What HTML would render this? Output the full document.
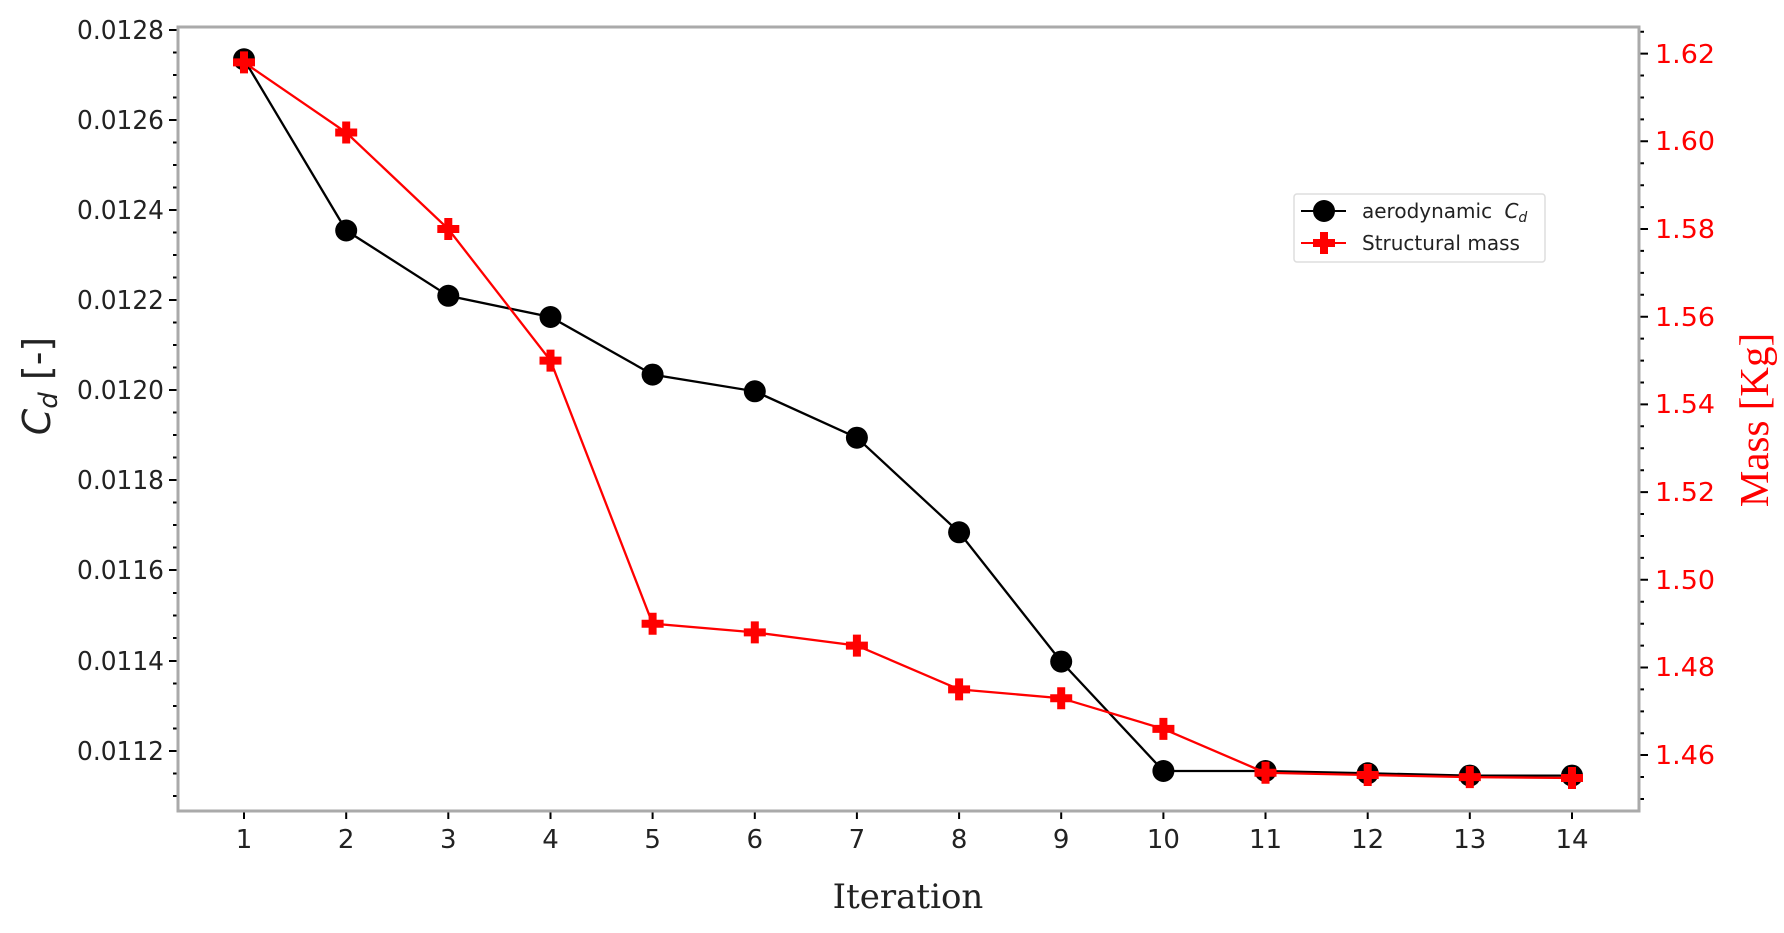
<!DOCTYPE html>
<html><head><meta charset="utf-8"><style>
body{margin:0;background:#fff}
svg{display:block}
text{font-family:"DejaVu Sans","Liberation Sans",sans-serif}
</style></head><body>
<svg width="1784" height="933" viewBox="0 0 1784 933" xmlns="http://www.w3.org/2000/svg">
<defs>
<path id="plus" d="M-4,-11H4V-4H11V4H4V11H-4V4H-11V-4H-4Z" fill="#ff0000"/>
</defs>
<g stroke="#000" stroke-width="2">
<path d="M178,30h-9M178,120h-9M178,210h-9M178,300h-9M178,390h-9M178,480h-9M178,570h-9M178,661h-9M178,751h-9"/>
<path d="M178,52.5h-5M178,75h-5M178,97.5h-5M178,142.5h-5M178,165h-5M178,187.5h-5M178,232.5h-5M178,255h-5M178,277.5h-5M178,322.5h-5M178,345h-5M178,367.5h-5M178,412.5h-5M178,435h-5M178,457.5h-5M178,502.5h-5M178,525h-5M178,547.5h-5M178,593h-5M178,615.5h-5M178,638h-5M178,683.5h-5M178,706h-5M178,728.5h-5M178,773.5h-5M178,796h-5"/>
<path d="M1639,53.6h9M1639,141.3h9M1639,229h9M1639,316.7h9M1639,404.4h9M1639,492.1h9M1639,579.8h9M1639,667.5h9M1639,755h9"/>
<path d="M1639,31.7h5M1639,75.5h5M1639,97.5h5M1639,119.4h5M1639,163.2h5M1639,185.2h5M1639,207.1h5M1639,250.9h5M1639,272.9h5M1639,294.8h5M1639,338.6h5M1639,360.6h5M1639,382.5h5M1639,426.3h5M1639,448.3h5M1639,470.2h5M1639,514h5M1639,536h5M1639,557.9h5M1639,601.7h5M1639,623.7h5M1639,645.6h5M1639,689.4h5M1639,711.4h5M1639,733.3h5M1639,777h5M1639,799h5"/>
<path d="M244,811v8M346.2,811v8M448.3,811v8M550.5,811v8M652.6,811v8M754.8,811v8M856.9,811v8M959.1,811v8M1061.2,811v8M1163.4,811v8M1265.5,811v8M1367.7,811v8M1469.8,811v8M1572,811v8"/>
</g>
<rect x="178" y="27" width="1461" height="784" fill="none" stroke="#aaa" stroke-width="3"/>
<g font-size="26" text-anchor="end" fill="#222">
<text x="164" y="39" textLength="87" lengthAdjust="spacingAndGlyphs">0.0128</text>
<text x="164" y="129" textLength="87" lengthAdjust="spacingAndGlyphs">0.0126</text>
<text x="164" y="219" textLength="87" lengthAdjust="spacingAndGlyphs">0.0124</text>
<text x="164" y="309" textLength="87" lengthAdjust="spacingAndGlyphs">0.0122</text>
<text x="164" y="399" textLength="87" lengthAdjust="spacingAndGlyphs">0.0120</text>
<text x="164" y="489" textLength="87" lengthAdjust="spacingAndGlyphs">0.0118</text>
<text x="164" y="579" textLength="87" lengthAdjust="spacingAndGlyphs">0.0116</text>
<text x="164" y="670" textLength="87" lengthAdjust="spacingAndGlyphs">0.0114</text>
<text x="164" y="760" textLength="87" lengthAdjust="spacingAndGlyphs">0.0112</text>
</g>
<g font-size="26" fill="#ff0000">
<text x="1655" y="63" textLength="60" lengthAdjust="spacingAndGlyphs">1.62</text>
<text x="1655" y="150" textLength="60" lengthAdjust="spacingAndGlyphs">1.60</text>
<text x="1655" y="238" textLength="60" lengthAdjust="spacingAndGlyphs">1.58</text>
<text x="1655" y="326" textLength="60" lengthAdjust="spacingAndGlyphs">1.56</text>
<text x="1655" y="413" textLength="60" lengthAdjust="spacingAndGlyphs">1.54</text>
<text x="1655" y="501" textLength="60" lengthAdjust="spacingAndGlyphs">1.52</text>
<text x="1655" y="589" textLength="60" lengthAdjust="spacingAndGlyphs">1.50</text>
<text x="1655" y="676" textLength="60" lengthAdjust="spacingAndGlyphs">1.48</text>
<text x="1655" y="764" textLength="60" lengthAdjust="spacingAndGlyphs">1.46</text>
</g>
<g font-size="26" text-anchor="middle" fill="#222">
<text x="244" y="848">1</text><text x="346.2" y="848">2</text><text x="448.3" y="848">3</text><text x="550.5" y="848">4</text><text x="652.6" y="848">5</text><text x="754.8" y="848">6</text><text x="856.9" y="848">7</text><text x="959.1" y="848">8</text><text x="1061.2" y="848">9</text><text x="1163.4" y="848">10</text><text x="1265.5" y="848">11</text><text x="1367.7" y="848">12</text><text x="1469.8" y="848">13</text><text x="1572" y="848">14</text>
</g>
<text x="908" y="908" font-size="34" text-anchor="middle" fill="#222" style="font-family:'DejaVu Serif','Liberation Serif',serif">Iteration</text>
<text transform="translate(50,386) rotate(-90)" font-size="38" text-anchor="middle" fill="#222"><tspan font-style="italic">C</tspan><tspan font-style="italic" font-size="26" dy="7">d</tspan><tspan dy="-7"> [-]</tspan></text>
<text transform="translate(1768,420) rotate(-90)" font-size="41" text-anchor="middle" fill="#ff0000" style="font-family:'Liberation Serif',serif">Mass [Kg]</text>
<polyline fill="none" stroke="#000" stroke-width="2.3" points="244,59.3 346.2,230.5 448.3,295.8 550.5,317 652.6,374.6 754.8,391.3 856.9,437.7 959.1,532.3 1061.2,661.6 1163.4,771 1265.5,771 1367.7,773.3 1469.8,775.6 1572,775.6"/>
<g fill="#000">
<circle cx="244" cy="59.3" r="11"/><circle cx="346.2" cy="230.5" r="11"/><circle cx="448.3" cy="295.8" r="11"/><circle cx="550.5" cy="317" r="11"/><circle cx="652.6" cy="374.6" r="11"/><circle cx="754.8" cy="391.3" r="11"/><circle cx="856.9" cy="437.7" r="11"/><circle cx="959.1" cy="532.3" r="11"/><circle cx="1061.2" cy="661.6" r="11"/><circle cx="1163.4" cy="771" r="11"/><circle cx="1265.5" cy="771" r="11"/><circle cx="1367.7" cy="773.3" r="11"/><circle cx="1469.8" cy="775.6" r="11"/><circle cx="1572" cy="775.6" r="11"/>
</g>
<polyline fill="none" stroke="#ff0000" stroke-width="2.3" points="244,62.4 346.2,132.5 448.3,229 550.5,360.6 652.6,623.7 754.8,632.4 856.9,645.6 959.1,689.4 1061.2,698.2 1163.4,728.9 1265.5,772.8 1367.7,775 1469.8,777.1 1572,778"/>
<use href="#plus" x="244" y="62.4"/><use href="#plus" x="346.2" y="132.5"/><use href="#plus" x="448.3" y="229"/><use href="#plus" x="550.5" y="360.6"/><use href="#plus" x="652.6" y="623.7"/><use href="#plus" x="754.8" y="632.4"/><use href="#plus" x="856.9" y="645.6"/><use href="#plus" x="959.1" y="689.4"/><use href="#plus" x="1061.2" y="698.2"/><use href="#plus" x="1163.4" y="728.9"/><use href="#plus" x="1265.5" y="772.8"/><use href="#plus" x="1367.7" y="775"/><use href="#plus" x="1469.8" y="777.1"/><use href="#plus" x="1572" y="778"/>
<rect x="1294" y="194" width="251" height="68" rx="3" fill="#fff" stroke="#ddd" stroke-width="1.5"/>
<line x1="1301" y1="211" x2="1346" y2="211" stroke="#000" stroke-width="2"/>
<circle cx="1324" cy="211" r="11" fill="#000"/>
<line x1="1301" y1="243" x2="1346" y2="243" stroke="#ff0000" stroke-width="2"/>
<use href="#plus" x="1324" y="243"/>
<text x="1362" y="218" font-size="20" fill="#222">aerodynamic <tspan font-style="italic" dx="6">C</tspan><tspan font-style="italic" font-size="14" dy="4">d</tspan></text>
<text x="1362" y="250" font-size="20" fill="#222">Structural mass</text>
</svg>
</body></html>
